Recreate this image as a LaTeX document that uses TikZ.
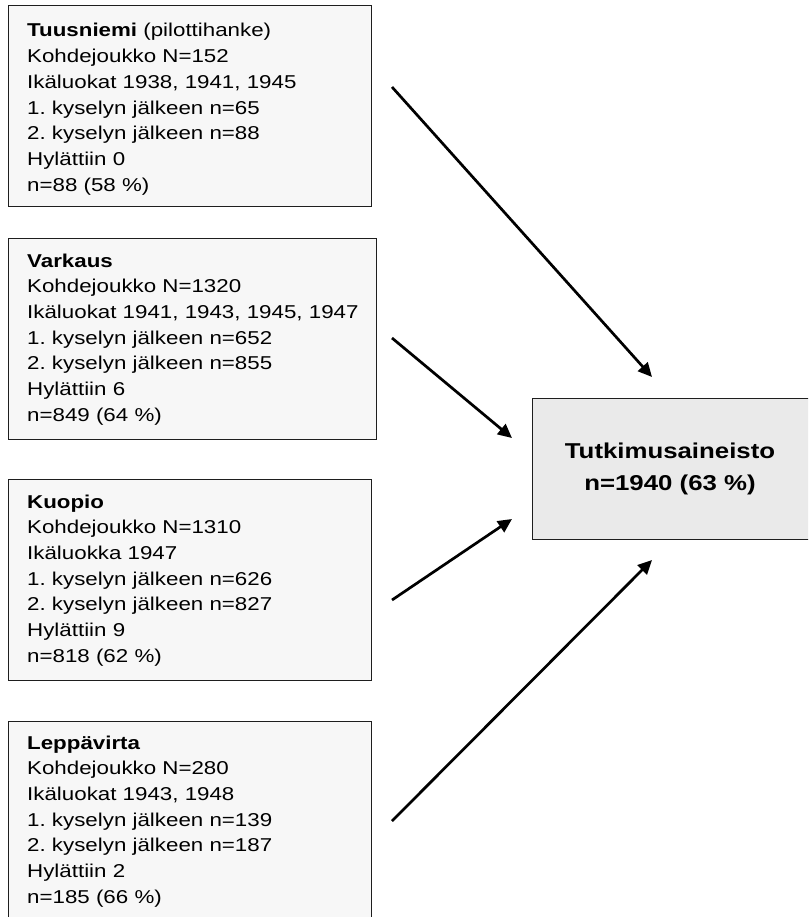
\documentclass[tikz,border=0pt]{standalone}
\usepackage{fontspec}
\setmainfont{Liberation Sans}[FakeStretch=1.2]
\usetikzlibrary{arrows.meta}
\definecolor{boxfill}{RGB}{247,247,247}
\definecolor{mainfill}{RGB}{234,234,234}
\definecolor{edge}{RGB}{30,30,30}
\frenchspacing
\begin{document}
\begin{tikzpicture}[x=1pt,y=-1pt,
  srcbox/.style={draw=edge, line width=1.4pt, fill=boxfill, anchor=north west,
    minimum width=363pt, minimum height=201pt, inner sep=0pt},
  srctext/.style={anchor=base west, text width=345pt, align=left, inner sep=0pt,
    font=\fontsize{18.6}{25.7}\selectfont\frenchspacing},
  mainbox/.style={draw=edge, line width=1.4pt, fill=mainfill, anchor=north west,
    minimum width=284pt, minimum height=141pt, inner sep=0pt},
  maintext/.style={align=center, inner sep=0pt,
    font=\fontsize{21.5}{32}\selectfont\bfseries},
  flow/.style={line width=2.7pt, -{Triangle[length=14pt,width=13pt]}}]
\useasboundingbox (0,0) rectangle (808,917);
\clip (0,0) rectangle (808,917);
\fill[white] (0,0) rectangle (808,917);

% source boxes
\node[srcbox] (b1) at (8,5) {};
\node[srctext] (t1) at (27,37) {\textbf{Tuusniemi} (pilottihanke)\\Kohdejoukko N=152\\Ikäluokat 1938, 1941, 1945\\1. kyselyn jälkeen n=65\\2. kyselyn jälkeen n=88\\Hylättiin 0\\n=88 (58 \%)};

\node[srcbox, minimum width=368pt] (b2) at (8,238) {};
\node[srctext] (t2) at (27,267) {\textbf{Varkaus}\\Kohdejoukko N=1320\\Ikäluokat 1941, 1943, 1945, 1947\\1. kyselyn jälkeen n=652\\2. kyselyn jälkeen n=855\\Hylättiin 6\\n=849 (64 \%)};

\node[srcbox] (b3) at (8,479) {};
\node[srctext] (t3) at (27,508) {\textbf{Kuopio}\\Kohdejoukko N=1310\\Ikäluokka 1947\\1. kyselyn jälkeen n=626\\2. kyselyn jälkeen n=827\\Hylättiin 9\\n=818 (62 \%)};

\node[srcbox] (b4) at (8,721) {};
\node[srctext] (t4) at (27,749) {\textbf{Leppävirta}\\Kohdejoukko N=280\\Ikäluokat 1943, 1948\\1. kyselyn jälkeen n=139\\2. kyselyn jälkeen n=187\\Hylättiin 2\\n=185 (66 \%)};

% target box
\node[mainbox] (m) at (532,398) {};
\node[maintext] (mt) at (670,469) {Tutkimusaineisto\\n=1940 (63 \%)};

% arrow end points
\coordinate (s1) at (392,87);  \coordinate (e1) at (652,377);
\coordinate (s2) at (392,338); \coordinate (e2) at (512,438);
\coordinate (s3) at (392,600); \coordinate (e3) at (512,519);
\coordinate (s4) at (392,821); \coordinate (e4) at (652,560);

\draw[flow] (s1) -- (e1);
\draw[flow] (s2) -- (e2);
\draw[flow] (s3) -- (e3);
\draw[flow] (s4) -- (e4);
\end{tikzpicture}
\end{document}
